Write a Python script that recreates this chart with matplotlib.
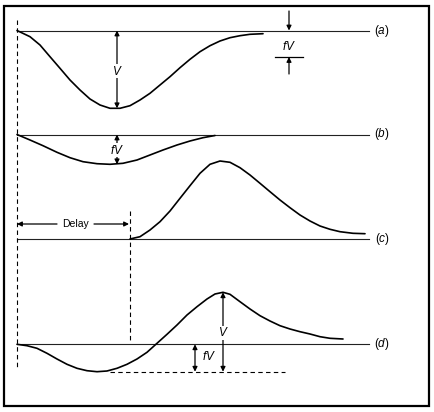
import matplotlib.pyplot as plt
from matplotlib.patches import Rectangle

plt.rcParams['font.family'] = ['Liberation Sans', 'DejaVu Sans']
plt.rcParams['mathtext.fontset'] = 'custom'
plt.rcParams['mathtext.it'] = 'Liberation Sans:italic'
plt.rcParams['mathtext.rm'] = 'Liberation Sans'

# pulse shapes (x, y in picture units, y downwards)
a_x = [17, 30, 40, 50, 60, 70, 80, 90, 100, 110, 120, 130, 140, 150, 160,
       170, 180, 190, 200, 210, 220, 230, 240, 250, 263]
a_y = [30.5, 36.7, 45, 56.7, 68.3, 80, 90, 99, 105, 108.3, 108.3, 105.7, 100,
       93.3, 85, 76.7, 67.7, 59.3, 51.7, 45.7, 41, 37.7, 35.7, 34.3, 33.7]

b_x = [17, 30, 43, 57, 70, 83, 97, 110, 123, 137, 150, 163, 177, 190, 203, 215]
b_y = [134.5, 140, 145.7, 152.3, 157.7, 161.7, 163.7, 164.3, 163.3, 160, 155,
       150, 145, 141, 137.7, 135.5]

c_x = [130, 140, 150, 160, 170, 180, 190, 200, 210, 220, 230, 240, 250, 260,
       270, 280, 290, 300, 310, 320, 330, 340, 353, 365]
c_y = [239, 236.7, 230, 221.7, 211, 198.3, 185.7, 173.3, 164.3, 161, 162.3,
       167.7, 175, 183.3, 191.7, 200, 207.7, 215, 221, 226, 229.3, 231.7,
       233.3, 233.7]

d_x = [17, 27, 37, 47, 57, 67, 77, 87, 97, 107, 117, 127, 137, 147, 157, 167,
       177, 187, 197, 207, 215, 223, 230, 240, 250, 260, 270, 280, 290, 300,
       310, 320, 330, 343]
d_y = [344.3, 345.7, 348.3, 353.3, 359, 364.3, 368.3, 370.7, 371.7, 371,
       368.3, 364.3, 359, 352.3, 343.3, 334.3, 325, 315, 306.7, 299, 294,
       292.3, 294.3, 301.7, 309, 315.7, 321, 325.7, 329, 331.7, 334, 336.7,
       338.3, 339]

baselines = {'a': 30.5, 'b': 134.5, 'c': 239.3, 'd': 344.3}
base_x0, base_x1 = 17, 369
label_x = 382

fig = plt.figure(figsize=(4.34, 4.12), dpi=100)
ax = fig.add_axes([0, 0, 1, 1])
ax.set_xlim(0, 434)
ax.set_ylim(412, 0)
ax.axis('off')

ax.add_patch(Rectangle((4, 6), 425, 400, fill=False, lw=1.6, ec='black'))

for k, y in baselines.items():
    ax.plot([base_x0, base_x1], [y, y], color='#222222', lw=0.8)
    ax.text(label_x, y, f'(${k}$)', fontsize=8.5, ha='center', va='center')

for xs, ys in [(a_x, a_y), (b_x, b_y), (c_x, c_y), (d_x, d_y)]:
    ax.plot(xs, ys, color='black', lw=1.2, solid_capstyle='round',
            solid_joinstyle='round')

# dashed guides
dash = dict(color='black', lw=0.8, dashes=(4, 3))
ax.plot([17, 17], [20, 369], **dash)
ax.plot([130, 130], [211, 340], **dash)
ax.plot([110, 285], [371.7, 371.7], **dash)

def arrow(x0, y0, x1, y1, style='<|-|>'):
    ax.annotate('', xy=(x1, y1), xytext=(x0, y0),
                arrowprops=dict(arrowstyle=style, color='black', lw=0.9,
                                mutation_scale=7, shrinkA=0, shrinkB=0))

lbl = dict(fontsize=8.5, ha='center', va='center')
wbox = dict(facecolor='white', edgecolor='none', pad=0.5)

# (a) V
arrow(117, 30.5, 117, 108.3)
ax.text(117, 71, '$V$', bbox=wbox, **lbl)
# (a) fV off to the right
arrow(289, 11, 289, 30.5, '-|>')
arrow(289, 74, 289, 57, '-|>')
ax.plot([275, 303], [57, 57], color='black', lw=0.9)
ax.text(289, 46, '$fV$', **lbl)

# (b) fV
arrow(117, 134.5, 117, 164.3)
ax.text(117, 150, '$fV$', bbox=wbox, **lbl)

# delay
arrow(57, 224, 17, 224, '-|>')
arrow(94, 224, 129, 224, '-|>')
ax.text(75.5, 224, 'Delay', fontsize=7.5, ha='center', va='center')

# (d) V and fV
arrow(223, 292.3, 223, 371.7)
ax.text(223, 333, '$V$', bbox=wbox, **lbl)
arrow(195, 344.3, 195, 371.7)
ax.text(209, 356, '$fV$', **lbl)

fig.savefig('out.png', dpi=100)
